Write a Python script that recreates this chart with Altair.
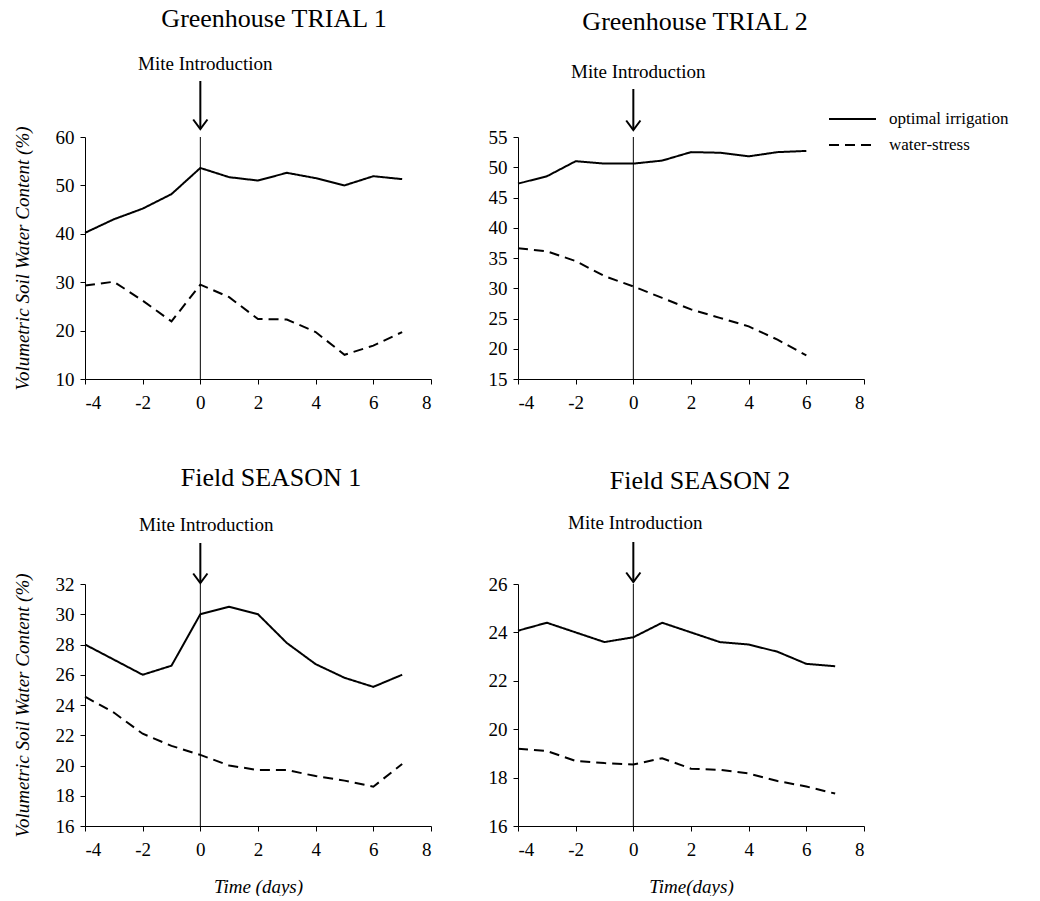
import altair as alt
import pandas as pd

# Days relative to mite introduction
days_a = [-4, -3, -2, -1, 0, 1, 2, 3, 4, 5, 6, 7]
days_b = [-4, -3, -2, -1, 0, 1, 2, 3, 4, 5, 6]

# Volumetric soil water content (%) by treatment
gh1_optimal = [40.2, 43.0, 45.2, 48.2, 53.6, 51.7, 51.0, 52.6, 51.5, 50.0, 51.9, 51.3]
gh1_stress = [29.3, 30.1, 26.2, 21.9, 29.5, 26.9, 22.4, 22.3, 19.7, 15.0, 16.9, 19.7]

gh2_optimal = [47.3, 48.5, 51.0, 50.6, 50.6, 51.1, 52.5, 52.4, 51.8, 52.5, 52.7]
gh2_stress = [36.6, 36.1, 34.5, 32.0, 30.3, 28.4, 26.5, 25.1, 23.7, 21.5, 18.9]

fs1_optimal = [28.0, 27.0, 26.0, 26.6, 30.0, 30.5, 30.0, 28.1, 26.7, 25.8, 25.2, 26.0]
fs1_stress = [24.55, 23.5, 22.1, 21.3, 20.7, 20.0, 19.7, 19.7, 19.3, 19.0, 18.6, 20.1]

fs2_optimal = [24.07, 24.4, 24.0, 23.6, 23.8, 24.4, 24.0, 23.6, 23.5, 23.2, 22.7, 22.6]
fs2_stress = [19.19, 19.1, 18.69, 18.6, 18.54, 18.8, 18.37, 18.32, 18.17, 17.86, 17.63, 17.34]

series_names = ["optimal irrigation", "water-stress"]
x_ticks = [-4, -2, 0, 2, 4, 6, 8]

FONT = "Liberation Serif"
W, H = 346, 242
PAD_L, PAD_T = 12, 6

dash_scale = alt.Scale(domain=series_names, range=[[1, 0], [10, 6]])


def frame(days, opt, stress):
    return pd.DataFrame({
        "day": list(days) + list(days),
        "swc": list(opt) + list(stress),
        "series": [series_names[0]] * len(days) + [series_names[1]] * len(days),
    })


def key_entry(name, y_px):
    """Line-style key entry drawn beside the upper-right panel."""
    df = pd.DataFrame({"series": [name]})
    sample = alt.Chart(df).mark_rule(color="black", strokeWidth=2).encode(
        x=alt.value(311), x2=alt.value(358), y=alt.value(y_px),
        strokeDash=alt.StrokeDash("series:N", scale=dash_scale, legend=None),
    )
    text = alt.Chart(df).mark_text(
        font=FONT, fontSize=17, color="black", align="left",
        baseline="middle",
    ).encode(x=alt.value(371), y=alt.value(y_px), text="series:N")
    return [sample, text]


def panel(title, df, ydom, yticks, ytitle, xtitle,
          text_y, arrow_top, arrow_tip, text_dx, title_dx, title_offset,
          extra=()):
    x = alt.X("day:Q",
              scale=alt.Scale(domain=[-4, 8], nice=False, zero=False),
              axis=alt.Axis(values=x_ticks, labelExpr="'' + datum.value",
                            title=xtitle))
    y = alt.Y("swc:Q",
              scale=alt.Scale(domain=ydom, nice=False, zero=False),
              axis=alt.Axis(values=yticks, title=ytitle))
    lines = alt.Chart(df).mark_line(color="black", strokeWidth=2).encode(
        x=x, y=y,
        strokeDash=alt.StrokeDash("series:N", scale=dash_scale, legend=None),
    )
    zero = pd.DataFrame({"day": [0]})
    vline = alt.Chart(zero).mark_rule(color="black", strokeWidth=1).encode(
        x=alt.X("day:Q"))
    shaft = alt.Chart(zero).mark_rule(color="black", strokeWidth=2).encode(
        x=alt.X("day:Q"), y=alt.value(arrow_top), y2=alt.value(arrow_tip))
    head = alt.Chart(zero).mark_point(
        shape="M-0.75,-1L0,0L0.75,-1", filled=False, stroke="black",
        strokeWidth=2, size=360, opacity=1,
    ).encode(x=alt.X("day:Q"), y=alt.value(arrow_tip))
    label = alt.Chart(zero).mark_text(
        text="Mite Introduction", font=FONT, fontSize=19, color="black",
        baseline="middle", dx=text_dx,
    ).encode(x=alt.X("day:Q"), y=alt.value(text_y))
    return alt.layer(lines, vline, shaft, head, label, *extra).properties(
        width=W, height=H,
        title=alt.TitleParams(title, font=FONT, fontSize=26,
                              fontWeight="normal", color="black",
                              anchor="middle", dx=title_dx,
                              offset=title_offset),
    )


p1 = panel("Greenhouse TRIAL 1", frame(days_a, gh1_optimal, gh1_stress),
           [10, 60], [10, 20, 30, 40, 50, 60],
           "Volumetric Soil Water Content (%)", None,
           -73, -56, -8, 5, 16, 23)
p2 = panel("Greenhouse TRIAL 2", frame(days_b, gh2_optimal, gh2_stress),
           [15, 55], [15, 20, 25, 30, 35, 40, 45, 50, 55],
           None, None,
           -65, -48, -7, 5, 4, 28,
           extra=key_entry(series_names[0], -18) + key_entry(series_names[1], 8))
p3 = panel("Field SEASON 1", frame(days_a, fs1_optimal, fs1_stress),
           [16, 32], [16, 18, 20, 22, 24, 26, 28, 30, 32],
           "Volumetric Soil Water Content (%)", "Time (days)",
           -59, -41, -1, 6, 13, 25)
p4 = panel("Field SEASON 2", frame(days_a, fs2_optimal, fs2_stress),
           [16, 26], [16, 18, 20, 22, 24, 26],
           None, "Time(days)",
           -61, -42, -2, 2, 9, 20)

chart = alt.vconcat(
    alt.hconcat(p1, p2, spacing=56),
    alt.hconcat(p3, p4, spacing=56),
    spacing=53,
).properties(
    padding={"left": PAD_L, "top": PAD_T, "right": 0, "bottom": 0},
    background="white",
).configure_view(
    stroke=None
).configure_axis(
    grid=False, domainColor="black", tickColor="black", labelColor="black",
    domainWidth=1, tickWidth=1, tickSize=5,
    labelFont=FONT, labelFontSize=19,
    titleFont=FONT, titleFontSize=19, titleFontStyle="italic",
    titleFontWeight="normal", titleColor="black",
).configure_axisX(
    labelPadding=9, titlePadding=18,
).configure_axisY(
    labelPadding=6, titlePadding=23,
)

chart.save("out.html", embed_options={"renderer": "svg", "actions": False})
